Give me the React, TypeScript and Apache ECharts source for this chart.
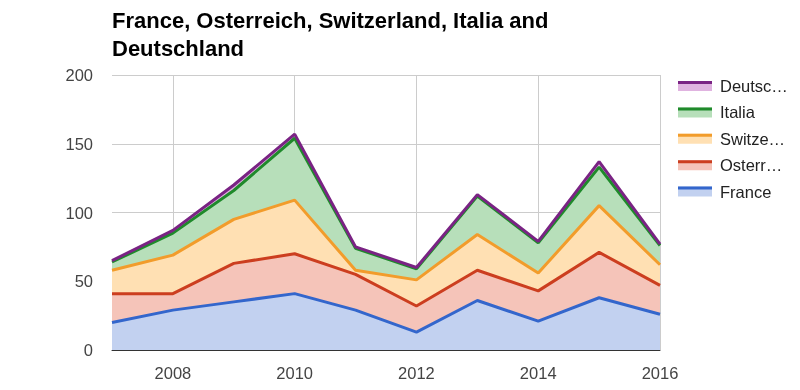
import React, { useEffect, useRef } from "react";
import * as echarts from "echarts";

const years = ["2007", "2008", "2009", "2010", "2011", "2012", "2013", "2014", "2015", "2016"];
const france = [20, 29, 35, 41, 29, 13, 36, 21, 38, 26];
const osterreich = [21, 12, 28, 29, 26, 19, 22, 22, 33, 21];
const switzerland = [17, 28, 32, 39, 3, 19, 26, 13, 34, 15];
const italia = [6, 16, 21, 45, 16, 8, 28, 22, 28, 14];
const deutschland = [1, 2, 4, 3, 1, 1, 1, 1, 4, 1];
const yTicks = [0, 50, 100, 150, 200];

const seriesDefs = [
  { name: "France", data: france, line: "#3366cc", fill: "rgb(194,209,240)", label: "France" },
  { name: "Osterreich", data: osterreich, line: "#cc3e1f", fill: "rgb(245,196,185)", label: "Osterr…" },
  { name: "Switzerland", data: switzerland, line: "#f29c2b", fill: "rgb(255,224,179)", label: "Switze…" },
  { name: "Italia", data: italia, line: "#1f8a2b", fill: "rgb(183,223,186)", label: "Italia" },
  { name: "Deutschland", data: deutschland, line: "#7a2384", fill: "rgb(224,179,224)", label: "Deutsc…" },
];

const FONT = "'Liberation Sans', Arial, sans-serif";

export default function App() {
  const ref = useRef<HTMLDivElement>(null);
  useEffect(() => {
    if (!ref.current) return;
    const chart = echarts.init(ref.current, undefined, { renderer: "svg" });
    const legendOrder = [...seriesDefs].reverse();
    const labelMap: Record<string, string> = {};
    seriesDefs.forEach((s) => (labelMap[s.name] = s.label));
    const oddIdx = (i: number) => i % 2 === 1;
    chart.setOption({
      animation: false,
      textStyle: { fontFamily: FONT },
      title: {
        text: "France, Osterreich, Switzerland, Italia and\nDeutschland",
        left: 112,
        top: 6,
        padding: 0,
        textStyle: { fontFamily: FONT, fontSize: 22, fontWeight: "bold", color: "#000", lineHeight: 28 },
      },
      legend: [
        {
          orient: "vertical",
          left: 678,
          top: 77,
          padding: 0,
          icon: "rect",
          itemWidth: 34,
          itemHeight: 10,
          itemGap: 8.4,
          selectedMode: false,
          formatter: (n: string) => labelMap[n],
          textStyle: { fontFamily: FONT, fontSize: 16.5, color: "#222", lineHeight: 18, padding: [0, 0, 0, 3] },
          data: legendOrder.map((s) => ({ name: s.name, itemStyle: { color: s.fill } })),
        },
        {
          orient: "vertical",
          left: 678,
          top: 73.5,
          padding: 0,
          icon: "rect",
          itemWidth: 34,
          itemHeight: 3,
          itemGap: 8.4,
          selectedMode: false,
          formatter: () => "\u00a0",
          textStyle: { fontFamily: FONT, fontSize: 16.5, color: "rgba(0,0,0,0)", lineHeight: 18 },
          data: legendOrder.map((s) => ({ name: s.name, itemStyle: { color: s.line } })),
        },
      ],
      grid: { left: 112, right: 140, top: 75, bottom: 40, containLabel: false },
      xAxis: {
        type: "category",
        data: years,
        boundaryGap: false,
        axisTick: { show: false },
        axisLine: { show: true, lineStyle: { color: "#333", width: 1 } },
        axisLabel: { interval: oddIdx, fontSize: 16.5, color: "#444", margin: 14, fontFamily: FONT },
        splitLine: { show: true, interval: oddIdx, lineStyle: { color: "#ccc", width: 1 } },
      },
      yAxis: {
        type: "value",
        min: yTicks[0],
        max: yTicks[yTicks.length - 1],
        interval: 50,
        axisTick: { show: false },
        axisLine: { show: false },
        axisLabel: { fontSize: 16.5, color: "#444", margin: 19, fontFamily: FONT },
        splitLine: { show: true, lineStyle: { color: "#ccc", width: 1 } },
      },
      series: seriesDefs.map((s) => ({
        name: s.name,
        type: "line",
        stack: "total",
        data: s.data,
        symbol: "none",
        lineStyle: { color: s.line, width: 3 },
        itemStyle: { color: s.line },
        areaStyle: { color: s.fill, opacity: 1 },
      })),
    });
    return () => chart.dispose();
  }, []);
  return <div ref={ref} style={{ position: "fixed", left: 0, top: 0, width: 800, height: 390 }} />;
}
